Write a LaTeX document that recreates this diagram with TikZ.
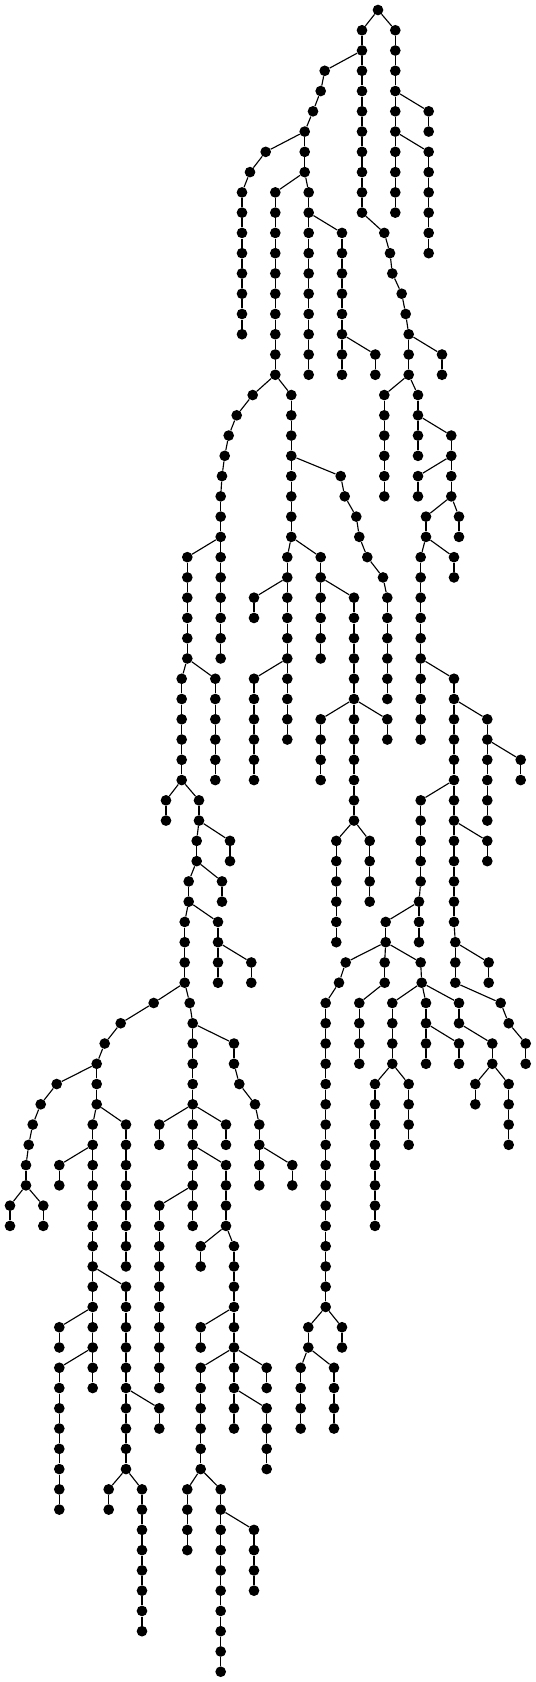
\documentclass[tikz,border=0pt]{standalone}
\usepackage{tikz}
\tikzset{
  tnode/.style={circle, fill=black, draw=none, inner sep=0pt, minimum size=8pt},
  tlink/.style={line width=0.85pt, black}
}
\newcommand\vch[5]{%
  \foreach \k in {#3,...,#4}{%
    \node[tnode] (#1-\k) at (#2,\k) {};
    \pgfmathtruncatemacro\pk{\k-1}%
    \ifnum\k=#3\relax \draw[tlink] (#5) -- (#1-\k);\else \draw[tlink] (#1-\pk) -- (#1-\k);\fi
  }%
}
\begin{document}
\begin{tikzpicture}[x=0.75pt,y=-15.199pt]
\useasboundingbox (0,-0.4935) rectangle (536,82.507);
\node[tnode] (root) at (378,0) {};
\vch{a}{362}{1}{2}{root}
\vch{b}{395.3}{1}{10}{root}
\vch{bA}{428.7}{5}{6}{b-4}
\vch{bB}{428.7}{7}{12}{b-6}
\vch{d}{362}{3}{10}{a-2}
\vch{cA}{324.7}{3}{3}{a-2}
\vch{cB}{320.7}{4}{4}{cA-3}
\vch{cC}{313}{5}{5}{cB-4}
\vch{cD}{304.7}{6}{8}{cC-5}
\vch{eA}{265.7}{7}{7}{cD-6}
\vch{eB}{250}{8}{8}{eA-7}
\vch{eC}{242}{9}{16}{eB-8}
\vch{f}{275.3}{9}{18}{cD-8}
\vch{g}{308.7}{9}{18}{cD-8}
\vch{h}{342}{11}{18}{g-10}
\vch{hA}{375.3}{17}{18}{h-16}
\vch{dA}{384.3}{11}{11}{d-10}
\vch{dB}{390}{12}{12}{dA-11}
\vch{dC}{392.3}{13}{13}{dB-12}
\vch{dD}{401.7}{14}{14}{dC-13}
\vch{dE}{405.7}{15}{15}{dD-14}
\vch{dF}{408.7}{16}{18}{dE-15}
\vch{dG}{442}{17}{18}{dF-16}
\vch{i}{384.3}{19}{24}{dF-18}
\vch{j}{418}{19}{22}{dF-18}
\vch{k}{451.3}{21}{24}{j-20}
\vch{kA}{418}{23}{24}{k-22}
\vch{l}{426}{25}{26}{k-24}
\vch{m}{459}{25}{26}{k-24}
\vch{n}{420.7}{27}{36}{l-26}
\vch{o}{454}{27}{28}{l-26}
\vch{p}{454}{33}{45}{n-32}
\vch{pA}{455.3}{46}{48}{p-45}
\vch{q}{487.3}{35}{40}{p-34}
\vch{qA}{520.7}{37}{38}{q-36}
\vch{r}{420.7}{39}{43}{p-38}
\vch{rA}{419}{44}{46}{r-43}
\vch{pp}{487.3}{41}{42}{p-40}
\vch{s}{385.7}{45}{46}{rA-44}
\vch{tA}{345.7}{47}{47}{s-46}
\vch{tB}{339}{48}{48}{tA-47}
\vch{tC}{325.7}{49}{64}{tB-48}
\vch{tD}{308.3}{65}{66}{tC-64}
\vch{tE}{342}{65}{66}{tC-64}
\vch{tF}{300.7}{67}{70}{tD-66}
\vch{tG}{334}{67}{70}{tD-66}
\vch{u}{384.7}{47}{48}{s-46}
\vch{uA}{359.3}{49}{52}{u-48}
\vch{v}{420.7}{47}{47}{s-46}
\vch{vA}{421.7}{48}{48}{v-47}
\vch{w}{392.3}{49}{52}{vA-48}
\vch{wA}{375}{53}{60}{w-52}
\vch{wB}{408.7}{53}{56}{w-52}
\vch{x}{426}{49}{52}{vA-48}
\vch{xA}{459}{51}{52}{x-50}
\vch{y}{459}{49}{50}{vA-48}
\vch{yA}{492.3}{51}{52}{y-50}
\vch{yB}{475.3}{53}{54}{yA-52}
\vch{yC}{508.7}{53}{56}{yA-52}
\vch{z}{488.7}{47}{48}{pA-46}
\vch{zA}{500.7}{49}{49}{pA-48}
\vch{zB}{508.7}{50}{50}{zA-49}
\vch{zC}{525.7}{51}{52}{zB-50}
\vch{aa}{291.3}{19}{26}{f-18}
\vch{ab}{340.7}{23}{23}{aa-22}
\vch{ac}{344.7}{24}{24}{ab-23}
\vch{ad}{356.3}{25}{25}{ac-24}
\vch{ae}{359.3}{26}{26}{ad-25}
\vch{af}{367.3}{27}{27}{ae-26}
\vch{ag}{383}{28}{28}{af-27}
\vch{ah}{387.3}{29}{34}{ag-28}
\vch{ai}{287.3}{27}{36}{aa-26}
\vch{aj}{320.7}{27}{32}{aa-26}
\vch{ak}{354}{29}{40}{aj-28}
\vch{al}{320.7}{35}{38}{ak-34}
\vch{am}{387.3}{35}{36}{ak-34}
\vch{an}{336.3}{41}{46}{ak-40}
\vch{ao}{369.7}{41}{44}{ak-40}
\vch{ap}{254}{29}{30}{ai-28}
\vch{aq}{254}{33}{38}{ai-32}
\vch{ba}{252.7}{19}{19}{f-18}
\vch{bb}{236.7}{20}{20}{ba-19}
\vch{bc}{228.7}{21}{21}{bb-20}
\vch{bd}{224.7}{22}{22}{bc-21}
\vch{be}{222}{23}{23}{bd-22}
\vch{bf}{220.7}{24}{26}{be-23}
\vch{bg}{187.3}{27}{32}{bf-26}
\vch{bh}{220.7}{27}{32}{bf-26}
\vch{bi}{181.7}{33}{38}{bg-32}
\vch{bj}{215.3}{33}{38}{bg-32}
\vch{bk}{166}{39}{40}{bi-38}
\vch{bl}{199}{39}{40}{bi-38}
\vch{bm}{196.7}{41}{42}{bl-40}
\vch{bn}{230}{41}{42}{bl-40}
\vch{bo}{188.7}{43}{44}{bm-42}
\vch{bp}{222}{43}{44}{bm-42}
\vch{bq}{184.7}{45}{48}{bo-44}
\vch{br}{218}{45}{46}{bo-44}
\vch{bs}{218}{47}{48}{br-46}
\vch{bt}{251.3}{47}{48}{br-46}
\vch{bu}{153.7}{49}{49}{bq-48}
\vch{bv}{120.7}{50}{50}{bu-49}
\vch{bw}{104.7}{51}{51}{bv-50}
\vch{bx}{96.7}{52}{54}{bw-51}
\vch{by}{56.7}{53}{53}{bx-52}
\vch{bz}{40.7}{54}{54}{by-53}
\vch{ca}{32.7}{55}{55}{bz-54}
\vch{cb}{28.7}{56}{56}{ca-55}
\vch{cc}{26}{57}{58}{cb-56}
\vch{cd}{10}{59}{60}{cc-58}
\vch{ce}{43.3}{59}{60}{cc-58}
\vch{cf}{92.7}{55}{68}{bx-54}
\vch{cg}{126}{55}{62}{bx-54}
\vch{ch}{59.3}{57}{58}{cf-56}
\vch{ci}{126}{63}{72}{cf-62}
\vch{cj}{59.3}{65}{66}{cf-64}
\vch{ck}{59.3}{67}{74}{cf-66}
\vch{cl}{108.7}{73}{74}{ci-72}
\vch{cm}{142}{73}{80}{ci-72}
\vch{cn}{159.3}{69}{70}{ci-68}
\vch{co}{189.7}{49}{49}{bq-48}
\vch{cp}{192.7}{50}{60}{co-49}
\vch{cq}{234}{51}{52}{cp-50}
\vch{cr}{239.3}{53}{53}{cq-52}
\vch{cs}{255}{54}{54}{cr-53}
\vch{ct}{259.3}{55}{58}{cs-54}
\vch{cu}{292.3}{57}{58}{ct-56}
\vch{cv}{159.3}{55}{56}{cp-54}
\vch{cw}{226}{55}{56}{cp-54}
\vch{cx}{226}{57}{60}{cp-56}
\vch{cy}{159.3}{59}{68}{cp-58}
\vch{cz}{200.7}{61}{62}{cx-60}
\vch{da}{234}{61}{70}{cx-60}
\vch{db}{200.7}{65}{66}{da-64}
\vch{dc}{200.7}{67}{72}{da-66}
\vch{dd}{266.7}{67}{68}{da-66}
\vch{de}{266.7}{69}{72}{da-68}
\vch{df}{187.3}{73}{76}{dc-72}
\vch{dg}{220.7}{73}{82}{dc-72}
\vch{dh}{254}{75}{78}{dg-74}
\end{tikzpicture}
\end{document}
